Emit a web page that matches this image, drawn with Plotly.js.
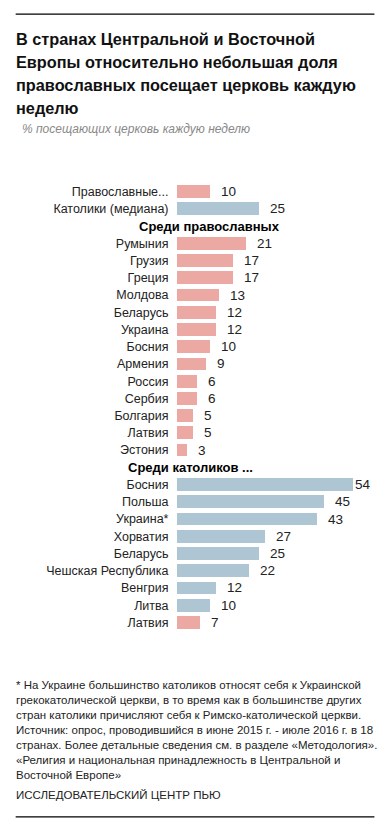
<!DOCTYPE html>
<html>
<head>
<meta charset="utf-8">
<script src="https://cdn.plot.ly/plotly-3.0.1.min.js"></script>
<style>
html,body{margin:0;padding:0;background:#fff;}
#chart{width:390px;height:835px;}
</style>
</head>
<body>
<div id="chart"></div>
<script>
// ---- Data ----
const summaryLabels = ['Православные...', 'Католики (медиана)'];
const summaryValues = [10, 25];
const orthodoxHeader = 'Среди православных';
const orthodoxCountries = ['Румыния','Грузия','Греция','Молдова','Беларусь','Украина','Босния','Армения','Россия','Сербия','Болгария','Латвия','Эстония'];
const orthodoxValues = [21, 17, 17, 13, 12, 12, 10, 9, 6, 6, 5, 5, 3];
const catholicHeader = 'Среди католиков ...';
const catholicCountries = ['Босния','Польша','Украина*','Хорватия','Беларусь','Чешская Республика','Венгрия','Литва','Латвия'];
const catholicValues = [54, 45, 43, 27, 25, 22, 12, 10, 7];

const titleLines = ['В странах Центральной и Восточной', 'Европы относительно небольшая доля', 'православных посещает церковь каждую', 'неделю'];
const subtitleText = '% посещающих церковь каждую неделю';
const noteText = '* На Украине большинство католиков относят себя к Украинской<br>грекокатолической церкви, в то время как в большинстве других<br>стран католики причисляют себя к Римско-католической церкви.<br>Источник: опрос, проводившийся в июне 2015 г. - июле 2016 г. в 18<br>странах. Более детальные сведения см. в разделе «Методология».<br>«Религия и национальная принадлежность в Центральной и<br>Восточной Европе»';
const sourceText = 'ИССЛЕДОВАТЕЛЬСКИЙ ЦЕНТР ПЬЮ';

// ---- Layout geometry ----
const W = 390, H = 835;
const PINK = '#eca9a4', BLUE = '#aec5d3';
const xMax = 60, pxPerUnit = 3.26;
const ml = 177, pw = xMax * pxPerUnit, mr = W - ml - pw;
const rowH = 17.25, nRows = 26;
const mt = 183, ph = rowH * nRows, mb = H - mt - ph;
const FONT = '"Liberation Sans", Arial, Helvetica, sans-serif';

// Build rows
const ys = [], xs = [], cols = [], tickv = [], tickt = [];
let idx = 0;
summaryLabels.forEach((l, i) => { ys.push(idx); xs.push(summaryValues[i]); cols.push(i === 0 ? PINK : BLUE); tickv.push(idx); tickt.push(l); idx++; });
const orthoHeaderIdx = idx++;
orthodoxCountries.forEach((l, i) => { ys.push(idx); xs.push(orthodoxValues[i]); cols.push(PINK); tickv.push(idx); tickt.push(l); idx++; });
const cathHeaderIdx = idx++;
catholicCountries.forEach((l, i) => { ys.push(idx); xs.push(catholicValues[i]); cols.push(l === 'Латвия' ? PINK : BLUE); tickv.push(idx); tickt.push(l); idx++; });

const pxX = px => (px - ml) / pw;
const pxY = py => 1 - (py - mt) / ph;

const annotations = [];
xs.forEach((v, i) => {
  annotations.push({x: v, y: ys[i], xref: 'x', yref: 'y', text: String(v), showarrow: false,
    xanchor: 'left', yanchor: 'middle', xshift: v >= 50 ? 0 : 9,
    font: {family: FONT, size: 13.5, color: '#222'}});
});
annotations.push({x: pxX(209), y: orthoHeaderIdx, xref: 'paper', yref: 'y', text: '<b>' + orthodoxHeader + '</b>', showarrow: false, xanchor: 'center', yanchor: 'middle', font: {family: FONT, size: 13, color: '#000'}});
annotations.push({x: pxX(126), y: cathHeaderIdx, xref: 'paper', yref: 'y', text: '<b>' + catholicHeader + '</b>', showarrow: false, xanchor: 'left', yanchor: 'middle', font: {family: FONT, size: 13, color: '#000'}});
titleLines.forEach((t, i) => {
  annotations.push({x: pxX(14), y: pxY(38.5 + 23 * i), xref: 'paper', yref: 'paper', text: '<b>' + t + '</b>', showarrow: false, xanchor: 'left', yanchor: 'middle', align: 'left', font: {family: FONT, size: 16.3, color: '#111'}});
});
annotations.push({x: pxX(20), y: pxY(129), xref: 'paper', yref: 'paper', text: '<i>' + subtitleText + '</i>', showarrow: false, xanchor: 'left', yanchor: 'middle', align: 'left', font: {family: FONT, size: 12, color: '#888'}});
annotations.push({x: pxX(14), y: pxY(678), xref: 'paper', yref: 'paper', text: noteText, showarrow: false, xanchor: 'left', yanchor: 'top', align: 'left', font: {family: FONT, size: 11.5, color: '#222'}});
annotations.push({x: pxX(14), y: pxY(796), xref: 'paper', yref: 'paper', text: sourceText, showarrow: false, xanchor: 'left', yanchor: 'middle', align: 'left', font: {family: FONT, size: 11.5, color: '#222'}});

const shapes = [
  {type: 'line', xref: 'paper', yref: 'paper', x0: pxX(16), x1: pxX(374), y0: pxY(14), y1: pxY(14), line: {color: '#000', width: 1.3}},
  {type: 'line', xref: 'paper', yref: 'paper', x0: pxX(16), x1: pxX(374), y0: pxY(817.5), y1: pxY(817.5), line: {color: '#000', width: 1.3}}
];

const trace = {type: 'bar', orientation: 'h', x: xs, y: ys, width: 0.74,
  marker: {color: cols, line: {width: 0}}, hoverinfo: 'skip'};

const layout = {
  width: W, height: H, margin: {l: ml, r: mr, t: mt, b: mb, pad: 0},
  paper_bgcolor: '#fff', plot_bgcolor: '#fff', showlegend: false,
  xaxis: {range: [0, xMax], visible: false, fixedrange: true},
  yaxis: {range: [nRows - 0.5, -0.5], tickvals: tickv, ticktext: tickt, showgrid: false, zeroline: false,
    showline: false, ticks: 'outside', ticklen: 5, tickcolor: 'rgba(0,0,0,0)',
    tickfont: {family: FONT, size: 12.5, color: '#222'}, fixedrange: true},
  annotations: annotations, shapes: shapes, bargap: 0
};

Plotly.newPlot('chart', [trace], layout, {displayModeBar: false, staticPlot: true});
</script>
</body>
</html>
